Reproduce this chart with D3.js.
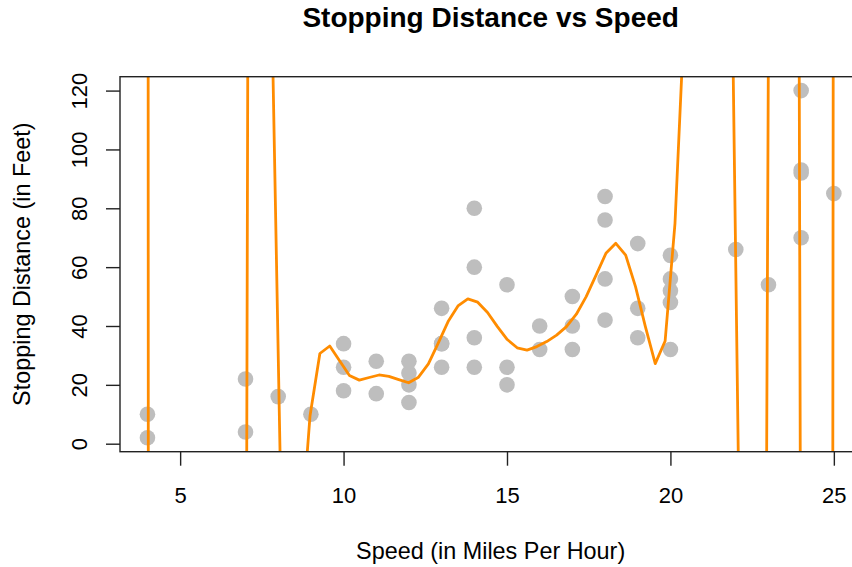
<!DOCTYPE html>
<html><head><meta charset="utf-8">
<script src="https://cdn.jsdelivr.net/npm/d3@7/dist/d3.min.js"></script>
<style>body{margin:0;background:#fff}svg{display:block}</style>
</head><body>
<svg id="c" width="852" height="567"></svg>
<script>
// observed data (speed in mph, stopping distance in feet)
const speed = [4,4,7,7,8,9,10,10,10,11,11,12,12,12,12,13,13,13,13,14,14,14,14,15,15,15,16,16,17,17,17,18,18,18,18,19,19,19,20,20,20,20,20,22,23,24,24,24,24,25];
const dist  = [2,10,4,22,16,10,18,26,34,17,28,14,20,24,28,26,34,34,46,26,36,60,80,20,26,54,32,40,32,40,50,42,56,76,84,36,46,68,32,48,52,56,64,66,54,70,92,93,120,85];

// fitted curve (values far outside the plot are estimates)
const fitX = [3.842,4.144,4.446,4.748,5.050,5.351,5.653,5.955,6.257,6.559,6.860,7.162,7.464,7.766,8.068,8.369,8.671,
  8.973,9.275,9.577,9.878,10.180,10.482,10.784,11.086,11.387,11.689,11.991,12.293,12.595,12.896,13.198,13.500,13.802,14.104,
  14.405,14.707,15.009,15.311,15.613,15.914,16.216,16.518,16.820,17.122,17.423,17.725,18.027,18.329,18.631,18.932,19.234,
  19.536,19.838,20.140,20.441,20.743,21.045,21.347,21.649,21.950,22.252,22.554,22.856,23.158,23.459,23.761,24.063,24.365,
  24.667,24.968,25.270,25.572];
const fitY = [6000,-3870,-5200,-5600,-5300,-4500,-3500,-2500,-1700,-1150,-744,517,420,170.3,-9.9,-38,-35,
  9.4,30.65,33.2,28.2,23.2,21.6,22.5,23.35,22.9,21.8,20.7,22.6,27.1,34.2,41.5,46.8,49.2,48.1,
  44.6,39.8,35.4,32.6,31.8,33.0,34.7,36.9,39.8,44.0,50.0,57.3,64.7,68.1,64.1,53.4,39.8,
  27.2,34.9,74.9,148.7,260,370,420,354,101.8,-150.5,-330,-234,552,1000,879,-382,-700,
  -650,-10,3357,15000];

const xTicks = [5,10,15,20,25];
const yTicks = [0,20,40,60,80,100,120];
const title = "Stopping Distance vs Speed";
const xLabel = "Speed (in Miles Per Hour)";
const yLabel = "Stopping Distance (in Feet)";

const svg = d3.select("#c");
const L = 120, R = 861.3, T = 76.7, B = 451.7;
const x = d3.scaleLinear().domain([3.16, 25.84]).range([L, R]);
const y = d3.scaleLinear().domain([-2.72, 124.72]).range([B, T]);
const font = "'Liberation Sans', Arial, Helvetica, sans-serif";

svg.append("defs").append("clipPath").attr("id","clip")
  .append("rect").attr("x",L).attr("y",T).attr("width",R-L).attr("height",B-T);

// points
svg.append("g").selectAll("circle").data(speed.map((s,i)=>[s,dist[i]])).join("circle")
  .attr("cx",d=>x(d[0])).attr("cy",d=>y(d[1])).attr("r",7.8).attr("fill","#bebebe");

// fitted line
const line = d3.line().x((d,i)=>x(fitX[i])).y(d=>y(d));
svg.append("path").attr("clip-path","url(#clip)").attr("d",line(fitY))
  .attr("fill","none").attr("stroke","#ff8c00").attr("stroke-width",2.8).attr("stroke-linejoin","round");

// box
svg.append("rect").attr("x",L).attr("y",T).attr("width",R-L).attr("height",B-T)
  .attr("fill","none").attr("stroke","#222").attr("stroke-width",1.4);

// x axis
const gx = svg.append("g").attr("transform",`translate(0,${B})`)
  .call(d3.axisBottom(x).tickValues(xTicks).tickSize(14).tickFormat(d3.format("d")));
gx.select(".domain").remove();
gx.selectAll(".tick line").attr("stroke","#222").attr("stroke-width",1.4);
gx.selectAll(".tick text").attr("y",0).attr("dy",0).attr("transform","translate(0,51)")
  .attr("font-family",font).attr("font-size",22).attr("fill","#000");

// y axis
const gy = svg.append("g").attr("transform",`translate(${L},0)`)
  .call(d3.axisLeft(y).tickValues(yTicks).tickSize(14).tickFormat(d3.format("d")));
gy.select(".domain").remove();
gy.selectAll(".tick line").attr("stroke","#222").attr("stroke-width",1.4);
gy.selectAll(".tick text").attr("x",0).attr("dy",0).attr("text-anchor","middle")
  .attr("transform","translate(-32.7,0) rotate(-90)")
  .attr("font-family",font).attr("font-size",22).attr("fill","#000");

// titles
svg.append("text").attr("x",(L+R)/2).attr("y",27).attr("text-anchor","middle")
  .attr("font-family",font).attr("font-weight","bold").attr("font-size",28).text(title);
svg.append("text").attr("x",(L+R)/2).attr("y",559).attr("text-anchor","middle")
  .attr("font-family",font).attr("font-size",23.4).text(xLabel);
svg.append("text").attr("transform",`translate(29.5,${(T+B)/2}) rotate(-90)`).attr("text-anchor","middle")
  .attr("font-family",font).attr("font-size",23.4).text(yLabel);
</script>
</body></html>
